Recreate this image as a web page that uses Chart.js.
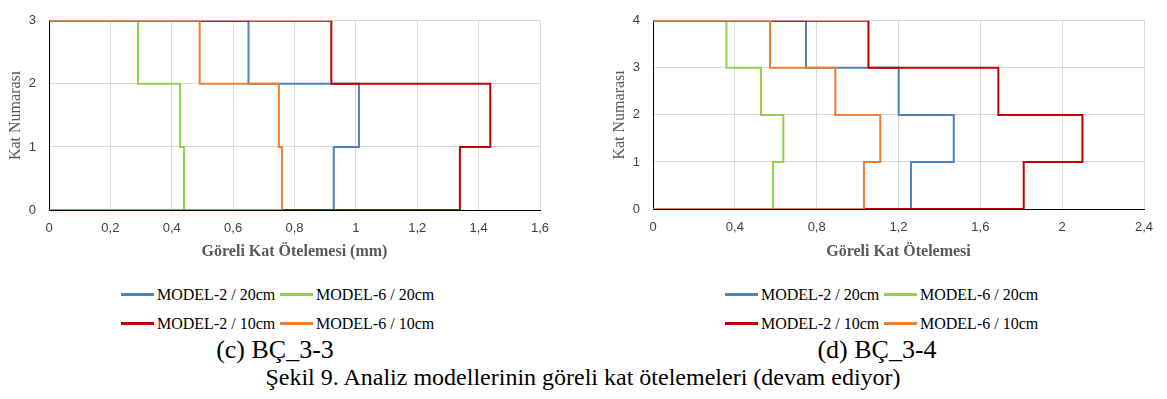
<!DOCTYPE html>
<html>
<head>
<meta charset="utf-8">
<script src="https://cdn.jsdelivr.net/npm/chart.js@4.4.1/dist/chart.umd.min.js"></script>
<style>
  body { margin: 0; background: #fff; width: 1167px; height: 399px; position: relative; overflow: hidden; }
  .box { position: absolute; }
  .legend { position: absolute; font-family: "Liberation Serif", "Times New Roman", serif; font-size: 16px; color: #000; }
  .legend .row { display: flex; height: 29px; align-items: center; }
  .legend .item { display: flex; align-items: center; width: 159px; white-space: nowrap; }
  .legend .swatch { width: 33px; height: 3px; margin-right: 3px; }
  .cap { position: absolute; font-family: "Liberation Serif", "Times New Roman", serif; color: #000; white-space: nowrap; line-height: 1; transform: translateX(-50%); }
</style>
</head>
<body>
<div class="box" style="left:0;top:0;"><canvas id="chartC" width="580" height="270"></canvas></div>
<div class="box" style="left:604px;top:0;"><canvas id="chartD" width="563" height="270"></canvas></div>
<div class="legend" id="legendC" style="left:121px;top:280px;"></div>
<div class="legend" id="legendD" style="left:725px;top:280px;"></div>
<div class="cap" style="left:275px;top:337px;font-size:26px;">(c) BÇ_3-3</div>
<div class="cap" style="left:877px;top:337px;font-size:26px;">(d) BÇ_3-4</div>
<div class="cap" style="left:583px;top:365px;font-size:24px;">Şekil 9. Analiz modellerinin göreli kat ötelemeleri (devam ediyor)</div>

<script>
// series labels and colours (legend order)
const seriesNames = ['MODEL-2 / 20cm', 'MODEL-6 / 20cm', 'MODEL-2 / 10cm', 'MODEL-6 / 10cm'];
const seriesColors = ['#4f81bd', '#92d050', '#c00000', '#ed7d31'];
// draw order: orange on top, blue at the bottom
const seriesOrder = [3, 2, 1, 0];

// (c) BÇ_3-3 : drift per storey, storey 1 first
const driftC_M2_20 = [0.928, 1.01, 0.65];
const driftC_M6_20 = [0.44, 0.427, 0.29];
const driftC_M2_10 = [1.339, 1.438, 0.92];
const driftC_M6_10 = [0.759, 0.749, 0.491];

// (d) BÇ_3-4
const driftD_M2_20 = [1.261, 1.47, 1.201, 0.748];
const driftD_M6_20 = [0.587, 0.637, 0.528, 0.359];
const driftD_M2_10 = [1.812, 2.099, 1.688, 1.053];
const driftD_M6_10 = [1.031, 1.111, 0.891, 0.572];

// axis settings
const xMaxC = 1.6, xStepC = 0.2, floorsC = 3;
const xMaxD = 2.4, xStepD = 0.4, floorsD = 4;
const xTitleC = 'Göreli Kat Ötelemesi (mm)';
const xTitleD = 'Göreli Kat Ötelemesi';
const yTitle = 'Kat Numarası';

// storey drift -> step outline (0,0) .. (d1,0),(d1,1),(d2,1) .. (0,top)
function stepPoints(drifts) {
    const pts = [{x: 0, y: 0}];
    drifts.forEach((d, i) => {
        pts.push({x: d, y: i}, {x: d, y: i + 1});
    });
    pts.push({x: 0, y: drifts.length});
    return pts;
}

function commaNum(v) {
    return String(+Number(v).toFixed(2)).replace('.', ',');
}

function makeChart(id, driftSets, xMax, xStep, floors, xTitle, rightPad, xHeight) {
    const ctx = document.getElementById(id).getContext('2d');
    return new Chart(ctx, {
        type: 'scatter',
        data: {
            datasets: driftSets.map((d, i) => ({
                label: seriesNames[i],
                data: stepPoints(d),
                showLine: true,
                borderColor: seriesColors[i],
                backgroundColor: seriesColors[i],
                borderWidth: 2,
                pointRadius: 0,
                tension: 0,
                order: seriesOrder[i]
            }))
        },
        options: {
            responsive: false,
            animation: false,
            devicePixelRatio: 1,
            layout: { padding: { top: 10, right: rightPad, bottom: 0, left: 0 } },
            plugins: { legend: { display: false }, tooltip: { enabled: false } },
            scales: {
                x: {
                    type: 'linear',
                    min: 0,
                    max: xMax,
                    afterFit: s => { s.height = xHeight; },
                    ticks: {
                        stepSize: xStep,
                        padding: 11,
                        color: '#404040',
                        font: { family: 'Liberation Sans', size: 13 },
                        callback: v => commaNum(v)
                    },
                    grid: { color: '#d9d9d9', drawTicks: false },
                    border: { color: '#000', width: 1 },
                    title: {
                        display: true,
                        text: xTitle,
                        color: '#595959',
                        padding: { top: 0, bottom: 9 },
                        font: { family: 'Liberation Serif', size: 16, weight: 'bold' }
                    }
                },
                y: {
                    min: 0,
                    max: floors,
                    afterFit: s => { s.width = 49; },
                    ticks: {
                        stepSize: 1,
                        padding: 13,
                        color: '#404040',
                        font: { family: 'Liberation Sans', size: 13 }
                    },
                    grid: { color: '#d9d9d9', drawTicks: false },
                    border: { color: '#000', width: 1 },
                    title: {
                        display: true,
                        text: yTitle,
                        color: '#595959',
                        padding: { top: 6, bottom: 0 },
                        font: { family: 'Liberation Serif', size: 16 }
                    }
                }
            }
        }
    });
}

function buildLegend(id) {
    const el = document.getElementById(id);
    for (let r = 0; r < 2; r++) {
        const row = document.createElement('div');
        row.className = 'row';
        for (let c = 0; c < 2; c++) {
            const i = r * 2 + c;
            const item = document.createElement('div');
            item.className = 'item';
            const sw = document.createElement('span');
            sw.className = 'swatch';
            sw.style.background = seriesColors[i];
            const tx = document.createElement('span');
            tx.textContent = seriesNames[i];
            item.appendChild(sw);
            item.appendChild(tx);
            row.appendChild(item);
        }
        el.appendChild(row);
    }
}

makeChart('chartC', [driftC_M2_20, driftC_M6_20, driftC_M2_10, driftC_M6_10], xMaxC, xStepC, floorsC, xTitleC, 40, 60);
makeChart('chartD', [driftD_M2_20, driftD_M6_20, driftD_M2_10, driftD_M6_10], xMaxD, xStepD, floorsD, xTitleD, 23, 61);
buildLegend('legendC');
buildLegend('legendD');
</script>
</body>
</html>
